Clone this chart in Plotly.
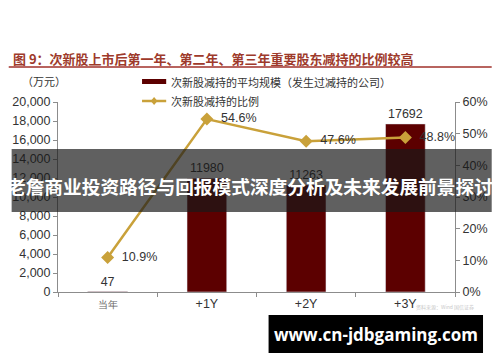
import plotly.graph_objects as go

categories = ["当年", "+1Y", "+2Y", "+3Y"]
avg_scale = [47, 11980, 11263, 17692]          # 万元
ratio = [0.109, 0.546, 0.476, 0.488]
bar_labels = ["47", "11980", "11263", "17692"]
ratio_labels = ["10.9%", "54.6%", "47.6%", "48.8%"]
tick_text = ['<span style="font-size:10px;color:#666">当年</span>', "+1Y", "+2Y", "+3Y"]

W, H = 500, 362
L, R, T, B = 51, 38, 102, 70
PW, PH = W - L - R, H - T - B

def px(x):
    return (x - L) / PW

def py(y):
    return (H - B - y) / PH

BAR = "#5c0000"
GOLD = "#c9a13a"
NUM = "Liberation Sans, Arial, sans-serif"
CJK = "Noto Sans CJK SC, sans-serif"

fig = go.Figure()
fig.add_trace(go.Bar(
    x=categories, y=avg_scale, marker_color=BAR, width=0.4,
    text=bar_labels, textposition="outside", cliponaxis=False,
    textfont=dict(family=NUM, size=12.5, color="#333"),
    showlegend=False, yaxis="y"))
fig.add_trace(go.Scatter(
    x=categories, y=ratio, mode="lines+markers+text", yaxis="y2",
    line=dict(color=GOLD, width=2.5),
    marker=dict(symbol="diamond", size=10, color=GOLD),
    text=["  " + t for t in ratio_labels], textposition="middle right",
    textfont=dict(family=NUM, size=12.5, color="#333"),
    cliponaxis=False, showlegend=False))

axis_common = dict(showline=True, linecolor="#8c8c8c", linewidth=1,
                   ticks="outside", ticklen=4, tickcolor="#8c8c8c",
                   showgrid=False, zeroline=False,
                   tickfont=dict(family=NUM, size=12.5, color="#333"))

fig.update_layout(
    width=W, height=H, margin=dict(l=L, r=R, t=T, b=B),
    paper_bgcolor="white", plot_bgcolor="white",
    xaxis=dict(categoryorder="array", categoryarray=categories,
               tickvals=categories, ticktext=tick_text,
               tickson="boundaries", **axis_common),
    yaxis=dict(range=[0, 20000], dtick=2000, tickformat=",", **axis_common),
    yaxis2=dict(range=[0, 0.6], dtick=0.1, tickformat=".0%", overlaying="y",
                side="right", **axis_common),
)

shapes = []
ann = []
# title + rule
ann.append(dict(x=px(2), y=py(59), xref="paper", yref="paper", xanchor="left",
                yanchor="middle", showarrow=False,
                text="<b>图 9：次新股上市后第一年、第二年、第三年重要股东减持的比例较高</b>",
                font=dict(family=CJK, size=13, color="#9e3a2b")))
shapes.append(dict(type="line", xref="paper", yref="paper", x0=px(0), x1=px(500),
                   y0=py(67), y1=py(67), line=dict(color="#a0302a", width=1.5)))
ann.append(dict(x=px(12), y=py(81), xref="paper", yref="paper", xanchor="left",
                yanchor="middle", showarrow=False, text="（万元）",
                font=dict(family=CJK, size=11, color="#333")))
# legend
shapes.append(dict(type="rect", xref="paper", yref="paper", x0=px(138), x1=px(163),
                   y0=py(84), y1=py(79), fillcolor=BAR, line=dict(width=0)))
ann.append(dict(x=px(166), y=py(82), xref="paper", yref="paper", xanchor="left",
                yanchor="middle", showarrow=False,
                text="次新股减持的平均规模（发生过减持的公司）",
                font=dict(family=CJK, size=11, color="#333")))
shapes.append(dict(type="line", xref="paper", yref="paper", x0=px(138), x1=px(163),
                   y0=py(101), y1=py(101), line=dict(color=GOLD, width=2.5)))
shapes.append(dict(type="path", xref="paper", yref="paper",
                   path=f"M {px(150.5)} {py(97)} L {px(154)} {py(101)} L {px(150.5)} {py(105)} L {px(147)} {py(101)} Z",
                   fillcolor=GOLD, line=dict(width=0)))
ann.append(dict(x=px(166), y=py(101), xref="paper", yref="paper", xanchor="left",
                yanchor="middle", showarrow=False, text="次新股减持的比例",
                font=dict(family=CJK, size=11, color="#333")))
# faint source note
ann.append(dict(x=px(420), y=py(307), xref="paper", yref="paper", xanchor="left",
                yanchor="middle", showarrow=False,
                text="资料来源：Wind 国信证券",
                font=dict(family=CJK, size=5, color="#c8c8c8")))
# overlay banner
shapes.append(dict(type="rect", xref="paper", yref="paper", x0=px(3), x1=px(500),
                   y0=py(212), y1=py(149), fillcolor="rgba(25,25,25,0.69)",
                   line=dict(width=0), layer="above"))
ann.append(dict(x=px(250), y=py(185), xref="paper", yref="paper", xanchor="center",
                yanchor="middle", showarrow=False,
                text="<b>老詹商业投资路径与回报模式深度分析及未来发展前景探讨</b>",
                font=dict(family=CJK, size=18.7, color="white")))
# watermark
shapes.append(dict(type="rect", xref="paper", yref="paper", x0=px(269), x1=px(491),
                   y0=py(353), y1=py(315), fillcolor="black", line=dict(width=0),
                   layer="above"))
ann.append(dict(x=px(380), y=py(334), xref="paper", yref="paper", xanchor="center",
                yanchor="middle", showarrow=False,
                text="<b>www.cn-jdbgaming.com</b>",
                font=dict(family="Open Sans, DejaVu Sans, sans-serif", size=17, color="white")))

fig.update_layout(shapes=shapes, annotations=ann)
fig.write_html("out.html")
